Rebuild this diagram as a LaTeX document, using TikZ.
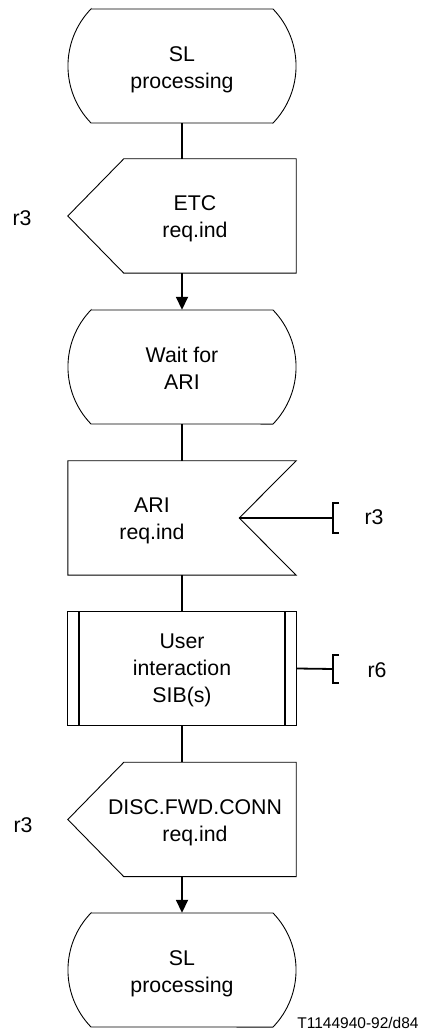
\documentclass[tikz,border=0pt]{standalone}
\usepackage{fontspec}
\setmainfont{Liberation Sans}
\usetikzlibrary{calc,arrows.meta}
\newcommand\mainf{\fontsize{21.3}{27}\selectfont}
\newcommand\SDLstate[1]{%
  \draw[outline] ($(#1.center)+(-91,57)$) -- ($(#1.center)+(91,57)$)
    arc[start angle=44, end angle=-44, radius=82.1pt]
    -- ($(#1.center)+(-91,-57)$)
    arc[start angle=224, end angle=136, radius=82.1pt] -- cycle;}
\begin{document}
\begin{tikzpicture}[x=1pt,y=1pt,
  shp/.style={rectangle, minimum width=228pt, minimum height=114pt, inner sep=0pt},
  txt/.style={inner sep=0pt, align=center, font=\mainf},
  outline/.style={line width=0.9pt, line join=miter},
  conn/.style={line width=1.8pt},
  arr/.style={-{Triangle[length=13pt,width=12pt]}},
  brk/.style={line width=2.2pt}]
\useasboundingbox (0,0) rectangle (424,1033);
% shape nodes
\node[shp] (s1) at (182,967) {};
\node[shp] (etc) at (182,817) {};
\node[shp] (wait) at (182,666) {};
\node[shp] (ari) at (182,515) {};
\node[shp] (user) at (182,364.5) {};
\node[shp] (disc) at (182,213.5) {};
\node[shp] (s2) at (182,63) {};
% texts
\node[txt] (s1t) at (182,963) {SL\\processing};
\node[txt] (etct) at (195,814) {ETC\\req.ind};
\node[txt] (waitt) at (182,665) {Wait for\\ARI};
\node[txt] (arit) at (152,512) {ARI\\req.ind};
\node[txt] (usert) at (182,363) {User\\interaction\\SIB(s)};
\node[txt] (disct) at (195,210.5) {DISC.FWD.CONN\\req.ind};
\node[txt] (s2t) at (182,59) {SL\\processing};
% shapes
\SDLstate{s1}
\SDLstate{wait}
\SDLstate{s2}
\draw[outline] (etc.north east) -- (etc.south east) -- ($(etc.south west)+(56,0)$) -- (etc.west) -- ($(etc.north west)+(56,0)$) -- cycle;
\draw[outline] (disc.north east) -- (disc.south east) -- ($(disc.south west)+(56,0)$) -- (disc.west) -- ($(disc.north west)+(56,0)$) -- cycle;
\draw[outline] (ari.north west) -- (ari.north east) -- ($(ari.east)+(-57,0)$) -- (ari.south east) -- (ari.south west) -- cycle;
\draw[outline] (user.north west) rectangle (user.south east);
\draw[line width=1.6pt] ($(user.north west)+(11,0)$) -- ($(user.south west)+(11,0)$);
\draw[line width=1.6pt] ($(user.north east)+(-11,0)$) -- ($(user.south east)+(-11,0)$);
% connectors
\draw[conn] (s1.south) -- (etc.north);
\draw[conn,arr] (etc.south) -- (wait.north);
\draw[conn] (wait.south) -- (ari.north);
\draw[conn] (ari.south) -- (user.north);
\draw[conn] (user.south) -- (disc.north);
\draw[conn,arr] (disc.south) -- (s2.north);
% brackets
\coordinate (b1) at (333,515);
\coordinate (b2) at (333,364);
\draw[conn] ($(ari.east)+(-57,0)$) -- (b1);
\draw[brk] ($(b1)+(6,15)$) -- ++(-6,0) -- ++(0,-30) -- ++(6,0);
\draw[conn] (user.east) -- (b2);
\draw[brk] ($(b2)+(6,14)$) -- ++(-6,0) -- ++(0,-28) -- ++(6,0);
% labels
\node[txt] (r3a) at (22,815) {r3};
\node[txt] (r3b) at (374,516) {r3};
\node[txt] (r6) at (377,363) {r6};
\node[txt] (r3c) at (23,208) {r3};
\node[inner sep=0pt, font=\fontsize{15.5}{18}\selectfont] (fig) at (358,10) {T1144940-92/d84};
\end{tikzpicture}
\end{document}
